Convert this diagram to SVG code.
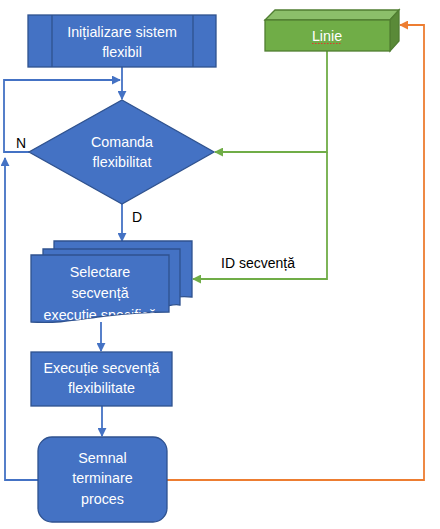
<svg xmlns="http://www.w3.org/2000/svg" width="440" height="529" viewBox="0 0 440 529">
<style>
.box{fill:#4472C4;stroke:#2F528F;stroke-width:1.3}
.t{font-family:"Liberation Sans",Arial,sans-serif;font-size:14.3px;fill:#fff;text-anchor:middle}
.l{font-family:"Liberation Sans",Arial,sans-serif;font-size:14px;fill:#000}
.cb{fill:none;stroke:#4472C4;stroke-width:1.8}
.cg{fill:none;stroke:#70AD47;stroke-width:1.8}
.co{fill:none;stroke:#ED7D31;stroke-width:1.8}
</style>
<defs>
<marker id="ab" viewBox="0 0 10 10" refX="9" refY="5" markerWidth="5" markerHeight="5" orient="auto" markerUnits="strokeWidth"><path d="M0,0 L10,5 L0,10 z" fill="#4472C4"/></marker>
<marker id="ag" viewBox="0 0 10 10" refX="9" refY="5" markerWidth="5" markerHeight="5" orient="auto" markerUnits="strokeWidth"><path d="M0,0 L10,5 L0,10 z" fill="#70AD47"/></marker>
<marker id="ao" viewBox="0 0 10 10" refX="9" refY="5" markerWidth="5" markerHeight="5" orient="auto" markerUnits="strokeWidth"><path d="M0,0 L10,5 L0,10 z" fill="#ED7D31"/></marker>
<clipPath id="docclip"><path d="M31,255 H169 V312 C150,312 130,313 105,316 C80,319 60,324 31,322 Z"/></clipPath>
</defs>

<g id="connectors">
<path class="cb" d="M122,67 V99" marker-end="url(#ab)"/>
<path class="cb" d="M29,152 H4 V80 H120" marker-end="url(#ab)"/>
<path class="cb" d="M122,204 V241" marker-end="url(#ab)"/>
<path class="cb" d="M101,322 V351" marker-end="url(#ab)"/>
<path class="cb" d="M102,406 V436" marker-end="url(#ab)"/>
<path class="cb" d="M38,480 H5 V158" marker-end="url(#ab)"/>
<path class="co" d="M167,480 H424 V25 H400" marker-end="url(#ao)"/>
<path class="cg" d="M327,50 V152 H215" marker-end="url(#ag)"/>
<path class="cg" d="M327,152 V279 H193" marker-end="url(#ag)"/>
</g>

<g id="labels">
<text class="l" x="21" y="148" text-anchor="middle">N</text>
<text class="l" x="137" y="222" text-anchor="middle">D</text>
<text class="l" x="221" y="268">ID secvență</text>
</g>

<g id="init">
<rect class="box" x="28" y="15" width="188" height="52"/>
<line x1="52" y1="15" x2="52" y2="67" stroke="#2F528F" stroke-width="1.3"/>
<line x1="193" y1="15" x2="193" y2="67" stroke="#2F528F" stroke-width="1.3"/>
<text class="t" x="122" y="37">Inițializare sistem</text>
<text class="t" x="122" y="57">flexibil</text>
</g>

<g id="comanda">
<path class="box" d="M122,100 L214,152 L122,204 L29,152 Z"/>
<text class="t" x="122" y="147">Comanda</text>
<text class="t" x="122" y="167">flexibilitat</text>
</g>

<g id="selectare">
<path class="box" d="M54,241 H192 V297 C180,296 175,297 168,298 L54,298 Z"/>
<path class="box" d="M43,249 H180 V305 C175,304 172,305 168,306 L43,306 Z"/>
<path class="box" d="M31,255 H169 V312 C150,312 130,313 105,316 C80,319 60,324 31,322 Z"/>
<g clip-path="url(#docclip)">
<text class="t" x="100" y="277">Selectare</text>
<text class="t" x="100" y="298">secvență</text>
<text class="t" x="100" y="320">execuție specifică</text>
</g>
</g>

<g id="executie">
<rect class="box" x="31" y="352" width="141" height="54"/>
<text class="t" x="101.5" y="373">Execuție secvență</text>
<text class="t" x="101.5" y="393">flexibilitate</text>
</g>

<g id="semnal">
<rect class="box" x="38" y="437" width="129" height="85" rx="14" ry="14"/>
<text class="t" x="102.5" y="463">Semnal</text>
<text class="t" x="102.5" y="483">terminare</text>
<text class="t" x="102.5" y="504">proces</text>
</g>

<g id="linie">
<path d="M265,20 L275,10 H399 L390,20 Z" fill="#8CBF6A" stroke="#507E32" stroke-width="1.3"/>
<path d="M390,20 L399,10 V41 L390,51 Z" fill="#5A8A38" stroke="#507E32" stroke-width="1.3"/>
<rect x="265" y="20" width="125" height="31" fill="#70AD47" stroke="#507E32" stroke-width="1.3"/>
<text class="t" x="327" y="41">Linie</text>
<line x1="312" y1="43.5" x2="342" y2="43.5" stroke="#E03A2F" stroke-width="1.2" stroke-dasharray="1.5,1.5"/>
</g>
</svg>
